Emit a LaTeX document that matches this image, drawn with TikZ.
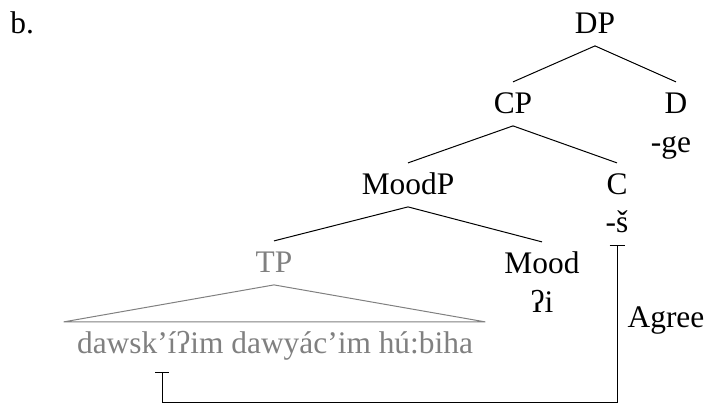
\documentclass[tikz,border=0pt]{standalone}
\usepackage{fontspec}
\setmainfont{Liberation Serif}
\usetikzlibrary{arrows.meta}
\definecolor{treegray}{HTML}{808080}
\begin{document}
\begin{tikzpicture}[x=0.5pt,y=-0.5pt,
  every node/.style={font=\fontsize{15.7}{18}\selectfont},
  cat/.style={inner sep=0pt, text height=15.85pt, text depth=5.75pt, anchor=base},
  faded/.style={text=treegray},
  branch/.style={line width=0.5pt},
  roof/.style={draw=treegray, line width=0.5pt}]
\useasboundingbox (0,0) rectangle (707,405);
\node[cat, anchor=base west] (ex) at (10,34) {b.};
\node[cat] (DP) at (595,34) {DP};
\node[cat] (CP) at (513,114) {CP};
\node[cat] (D) at (676,114) {D};
\node[cat] (Dge) at (671,152.5) {-ge};
\node[cat] (MoodP) at (408,195) {MoodP};
\node[cat] (C) at (617,195) {C};
\node[cat] (Cs) at (617,233) {-š};
\node[cat,faded] (TP) at (274,273) {TP};
\node[cat] (Mood) at (542,274) {Mood};
\node[cat] (Moodi) at (542,313) {ʔi};
\node[cat,faded] (words) at (275,354) {dawsk’íʔim dawyác’im hú:biha};
\node[cat] (agree) at (666,328) {Agree};
\draw[branch] (DP.south) -- (CP.north);
\draw[branch] (DP.south) -- (D.north);
\draw[branch] (CP.south) -- (MoodP.north);
\draw[branch] (CP.south) -- (C.north);
\draw[branch] (MoodP.south) -- (TP.north);
\draw[branch] (MoodP.south) -- (Mood.north);
\draw[roof] (TP.south) -- ([xshift=-6.5pt]words.north west) -- ([xshift=6pt]words.north east) -- cycle;
\coordinate (goal) at (162,372);
\coordinate (floor) at (0,403);
\draw[branch, {Bar[width=7.5pt]}-{Bar[width=7pt]}] (Cs.south) -- (Cs.south |- floor) -- (goal |- floor) -- (goal);
\end{tikzpicture}
\end{document}
